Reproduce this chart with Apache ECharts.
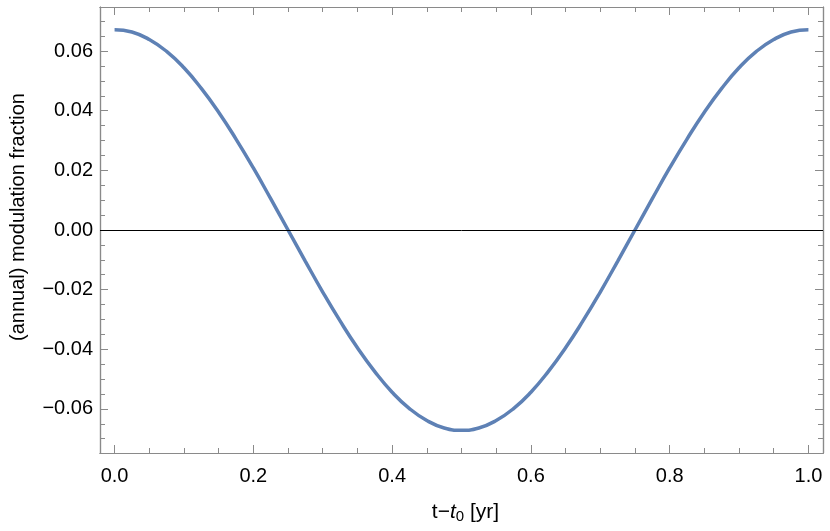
<!DOCTYPE html>
<html lang="en">
<head>
    <meta charset="UTF-8">
    <title>annual modulation</title>
    <script src="https://cdnjs.cloudflare.com/ajax/libs/echarts/6.0.0/echarts.min.js"></script>
    <style>
        html, body { margin: 0; padding: 0; background: #fff; }
        #main { width: 830px; height: 531px; }
    </style>
</head>
<body>
    <div id="main"></div>
    <script>
        // values
        const tValues = [0, 0.025, 0.05, 0.075, 0.1, 0.125, 0.15, 0.175, 0.2, 0.225,
            0.25, 0.275, 0.3, 0.325, 0.35, 0.375, 0.4, 0.425, 0.45, 0.475,
            0.5, 0.525, 0.55, 0.575, 0.6, 0.625, 0.65, 0.675, 0.7, 0.725,
            0.75, 0.775, 0.8, 0.825, 0.85, 0.875, 0.9, 0.925, 0.95, 0.975, 1.0];
        const modValues = [0.0672, 0.0664, 0.0639, 0.0599, 0.0544, 0.0475, 0.0395, 0.0305, 0.0208, 0.0105,
            0.0000, -0.0105, -0.0208, -0.0305, -0.0395, -0.0475, -0.0544, -0.0599, -0.0639, -0.0664,
            -0.0672, -0.0664, -0.0639, -0.0599, -0.0544, -0.0475, -0.0395, -0.0305, -0.0208, -0.0105,
            0.0000, 0.0105, 0.0208, 0.0305, 0.0395, 0.0475, 0.0544, 0.0599, 0.0639, 0.0664, 0.0672];

        const xMajorTicks = [0, 0.2, 0.4, 0.6, 0.8, 1.0];
        const xMinorTicks = [0.05, 0.1, 0.15, 0.25, 0.3, 0.35, 0.45, 0.5, 0.55, 0.65, 0.7, 0.75, 0.85, 0.9, 0.95];
        const yMajorTicks = [-0.06, -0.04, -0.02, 0, 0.02, 0.04, 0.06];
        const yMinorTicks = [-0.07, -0.065, -0.055, -0.05, -0.045, -0.035, -0.03, -0.025, -0.015, -0.01, -0.005,
            0.005, 0.01, 0.015, 0.025, 0.03, 0.035, 0.045, 0.05, 0.055, 0.065, 0.07];

        const xMin = -0.021, xMax = 1.021;
        const yMin = -0.0748, yMax = 0.0748;

        const frameColor = '#8a8a8a';
        const font = 'Liberation Sans, Arial, sans-serif';

        const chart = echarts.init(document.getElementById('main'));

        function xAx(pos, ticks, len, showLabel, extra) {
            return Object.assign({
                type: 'value', position: pos, min: xMin, max: xMax,
                axisLine: { show: true, onZero: false, lineStyle: { color: frameColor, width: 1.2 } },
                axisTick: { show: true, inside: true, length: len, customValues: ticks, lineStyle: { color: frameColor, width: 1 } },
                axisLabel: {
                    show: showLabel, customValues: ticks, margin: 13,
                    color: '#000', fontSize: 20, fontFamily: font,
                    formatter: v => v.toFixed(1)
                },
                splitLine: { show: false }
            }, extra || {});
        }

        function yAx(pos, ticks, len, showLabel, extra) {
            return Object.assign({
                type: 'value', position: pos, min: yMin, max: yMax,
                axisLine: { show: true, onZero: false, lineStyle: { color: frameColor, width: 1.2 } },
                axisTick: { show: true, inside: true, length: len, customValues: ticks, lineStyle: { color: frameColor, width: 1 } },
                axisLabel: {
                    show: showLabel, customValues: ticks, margin: 7,
                    color: '#000', fontSize: 20, fontFamily: font,
                    formatter: v => v.toFixed(2).replace('-', '\u2212')
                },
                splitLine: { show: false }
            }, extra || {});
        }

        const option = {
            animation: false,
            grid: { left: 100, right: 7, top: 7, bottom: 78, outerBoundsMode: 'none', containLabel: false },
            xAxis: [
                xAx('bottom', xMajorTicks, 8, true, {
                    name: '{n|t\u2212}{i|t}{s|0}{n| [yr]}',
                    nameLocation: 'middle', nameGap: 48,
                    nameTextStyle: {
                        padding: [0, 0, 0, 8],
                        rich: {
                            n: { fontSize: 21, fontFamily: font, color: '#000' },
                            i: { fontSize: 21, fontFamily: font, fontStyle: 'italic', color: '#000' },
                            s: { fontSize: 15, fontFamily: font, color: '#000', verticalAlign: 'bottom', padding: [8, 0, 0, 0] }
                        }
                    }
                }),
                xAx('bottom', xMinorTicks, 5, false),
                xAx('top', xMajorTicks, 8, false),
                xAx('top', xMinorTicks, 5, false)
            ],
            yAxis: [
                yAx('left', yMajorTicks, 8, true, {
                    name: '(annual) modulation fraction',
                    nameLocation: 'middle', nameGap: 72, nameRotate: 90,
                    nameTextStyle: { fontSize: 20, fontFamily: font, color: '#000', padding: [0, 0, 0, 26] }
                }),
                yAx('left', yMinorTicks, 5, false),
                yAx('right', yMajorTicks, 8, false),
                yAx('right', yMinorTicks, 5, false)
            ],
            series: [
                {
                    type: 'line',
                    xAxisIndex: 0, yAxisIndex: 0,
                    data: tValues.map((t, i) => [t, modValues[i]]),
                    smooth: true,
                    symbol: 'none',
                    lineStyle: { color: '#5E81B5', width: 3.5 },
                    markLine: {
                        silent: true, symbol: 'none', label: { show: false },
                        lineStyle: { color: '#000', width: 1, type: 'solid' },
                        data: [{ yAxis: 0 }]
                    }
                }
            ]
        };

        chart.setOption(option);
    </script>
</body>
</html>
